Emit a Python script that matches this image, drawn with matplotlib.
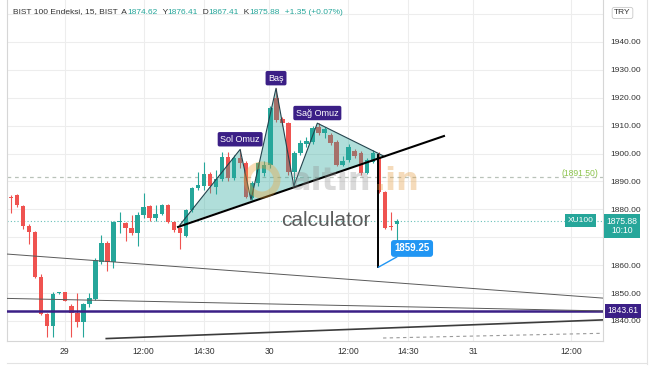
import numpy as np
import matplotlib.pyplot as plt
from matplotlib.patches import Circle

plt.rcParams['font.family'] = ['Liberation Sans', 'DejaVu Sans']

# 15 dakikalık mumlar (BIST 100), bar sırasına göre
opens = [1884.6, 1885.2, 1881.2, 1874.2, 1872.0, 1855.9, 1842.5, 1838.2, 1850.0, 1850.3,
         1845.4, 1842.8, 1839.5, 1846.1, 1847.8, 1861.2, 1868.1, 1861.3, 1875.6, 1875.2,
         1873.2, 1871.4, 1878.0, 1881.2, 1876.8, 1878.3, 1881.6, 1875.6, 1873.2, 1870.5,
         1879.8, 1887.8, 1888.5, 1892.8, 1888.2, 1890.8, 1898.9, 1891.3, 1898.5, 1896.5,
         1884.2, 1889.5, 1893.0, 1896.0, 1919.8, 1912.4, 1911.0, 1893.4, 1900.2, 1903.5,
         1904.0, 1909.5, 1907.4, 1906.7, 1904.3, 1896.0, 1897.7, 1900.8, 1900.2, 1893.0,
         1897.0, 1898.8, 1886.3, 1874.0, 1874.62]
highs = [1885.0, 1885.6, 1881.5, 1874.6, 1872.3, 1857.0, 1843.0, 1850.3, 1850.5, 1850.5,
         1846.0, 1850.0, 1846.5, 1850.0, 1862.5, 1870.8, 1868.5, 1876.0, 1879.2, 1875.6,
         1878.0, 1879.2, 1886.0, 1881.6, 1881.5, 1882.0, 1882.0, 1876.0, 1873.6, 1880.0,
         1888.0, 1893.5, 1897.0, 1893.5, 1894.0, 1900.5, 1900.5, 1899.5, 1901.5, 1897.5,
         1890.0, 1897.0, 1897.5, 1917.0, 1923.4, 1913.0, 1911.5, 1901.0, 1905.0, 1906.0,
         1910.0, 1910.9, 1909.6, 1907.5, 1905.0, 1899.0, 1903.5, 1901.5, 1900.8, 1898.5,
         1901.2, 1900.5, 1886.5, 1879.2, 1876.41]
lows = [1878.7, 1881.0, 1873.0, 1867.6, 1855.5, 1842.0, 1834.4, 1834.4, 1849.8, 1847.0,
        1834.4, 1838.0, 1834.4, 1845.0, 1847.5, 1860.5, 1858.0, 1859.0, 1871.4, 1868.8,
        1870.8, 1867.0, 1877.0, 1876.0, 1876.0, 1878.0, 1875.0, 1872.0, 1865.8, 1870.0,
        1879.0, 1887.0, 1887.0, 1886.0, 1885.5, 1890.0, 1890.0, 1890.5, 1895.0, 1884.0,
        1883.4, 1888.5, 1892.0, 1895.0, 1911.5, 1910.0, 1892.5, 1888.2, 1899.5, 1902.5,
        1903.5, 1906.5, 1905.5, 1903.0, 1895.5, 1895.5, 1897.0, 1898.5, 1892.5, 1892.8,
        1896.5, 1886.0, 1873.0, 1872.6, 1867.41]
closes = [1884.2, 1881.6, 1874.1, 1871.8, 1855.7, 1842.5, 1838.2, 1849.7, 1850.3, 1847.3,
          1842.8, 1839.5, 1846.1, 1848.1, 1861.9, 1868.1, 1861.2, 1875.6, 1875.9, 1873.2,
          1871.4, 1878.0, 1881.0, 1876.8, 1878.3, 1881.6, 1875.6, 1872.6, 1871.4, 1879.8,
          1887.8, 1888.7, 1892.8, 1888.5, 1890.8, 1898.9, 1891.3, 1898.5, 1896.5, 1884.5,
          1889.5, 1896.5, 1896.0, 1916.3, 1912.0, 1911.0, 1893.4, 1900.2, 1903.8, 1904.5,
          1909.2, 1907.4, 1908.8, 1903.8, 1895.9, 1897.2, 1902.5, 1899.0, 1893.0, 1897.7,
          1900.2, 1886.3, 1873.5, 1873.6, 1875.88]

# zaman ekseni etiketleri (bar konumu)
time_pos = [8.9, 22.0, 32.0, 42.8, 55.9, 65.8, 76.6, 92.9]
time_labels = ["29", "12:00", "14:30", "30", "12:00", "14:30", "31", "12:00"]
price_grid = list(range(1840, 1951, 10))
# 1870 ve 1950 etiketleri fiyat kutusu / TRY altında kalıyor
price_labels = [p for p in price_grid if p not in (1870, 1950)]

# omuz-baş-omuz çizimi
pattern_x = [28.0, 38.0, 39.8, 43.95, 46.9, 50.8, 62.0]
pattern_y = [1874.4, 1901.5, 1883.4, 1923.4, 1888.4, 1910.9, 1898.9]
pattern_names = ["Sol Omuz", "Baş", "Sağ Omuz"]
pattern_peaks = [1, 3, 5]

# çizgiler
neck_x, neck_y = [27.7, 71.8], [1873.7, 1906.3]
drop_x, drop_y = [60.9, 60.9], [1899.5, 1859.25]
grey1_x, grey1_y = [-0.7, 98.2], [1864.0, 1848.2]
grey2_x, grey2_y = [-0.7, 98.2], [1848.1, 1843.6]
rise_x, rise_y = [15.8, 98.2], [1833.7, 1840.4]
dash_x, dash_y = [61.7, 98.2], [1833.9, 1835.6]
last_price = 1875.88
alert_price = 1891.50
purple_price = 1843.61
target_price = 1859.25

# başlık parçaları
title = "BIST 100 Endeksi, 15, BIST"
header = [("  A", '#333333'), ("1874.62", '#26a69a'), ("  Y", '#333333'),
          ("1876.41", '#26a69a'), ("  D", '#333333'), ("1867.41", '#26a69a'),
          ("  K", '#333333'), ("1875.88", '#26a69a'), ("  +1.35 (+0.07%)", '#26a69a')]

UP, DOWN = '#26a69a', '#ef5350'
PURPLE = '#3b1f86'

fig = plt.figure(figsize=(6.54, 3.66), dpi=100)
ax = fig.add_axes([7/654, 25/366, 596/654, 341/366])
ax.set_xlim(-0.66, 98.17)
ax.set_ylim(1832.83, 1955.05)

o, h, l, c = map(np.array, (opens, highs, lows, closes))
x = np.arange(len(o))
col = np.where(c >= o, UP, DOWN)
ax.vlines(x, l, h, colors=col, lw=0.8, zorder=3)
ax.bar(x, np.maximum(np.abs(c - o), 0.25), bottom=np.minimum(o, c), width=0.74,
       color=col, zorder=3)

# grid ve eksenler
ax.set_xticks(time_pos, time_labels)
ax.set_yticks(price_labels, [f"{p:.2f}" for p in price_labels])
ax.grid(True, axis='x', color='#ededed', lw=0.8, zorder=0)
for p in price_grid:
    ax.axhline(p, color='#ededed', lw=0.8, zorder=0)
ax.yaxis.tick_right()
ax.tick_params(axis='y', length=0, pad=5, labelsize=6, labelcolor='#333333')
ax.tick_params(axis='x', length=0, pad=4, labelsize=6.2, labelcolor='#333333')
for s in ax.spines.values():
    s.set_color('#d6d6d6')
    s.set_linewidth(0.8)
ax.spines['top'].set_visible(False)

# yatay çizgiler
ax.axhline(alert_price, color='#b9c2b9', lw=0.9, ls=(0, (3, 3)), zorder=2)
ax.axhline(last_price, color=UP, lw=0.8, ls=(0, (1, 2)), zorder=2, alpha=0.7)
ax.axhline(purple_price, color=PURPLE, lw=1.8, zorder=4)
ax.plot(grey1_x, grey1_y, color='#5a5a5a', lw=0.7, zorder=4)
ax.plot(grey2_x, grey2_y, color='#5a5a5a', lw=0.7, zorder=4)
ax.plot(rise_x, rise_y, color='#3c3c3c', lw=1.2, zorder=4)
ax.plot(dash_x, dash_y, color='#9a9a9a', lw=0.8, ls=(0, (3, 3)), zorder=4)

# formasyon
ax.fill(pattern_x, pattern_y, color=UP, alpha=0.36, lw=0, zorder=5)
ax.plot(pattern_x, pattern_y, color='#24444e', lw=0.8, zorder=6)
for name, k in zip(pattern_names, pattern_peaks):
    ax.annotate(name, (pattern_x[k], pattern_y[k]), xytext=(0, 7.3),
                textcoords='offset points', ha='center', va='center',
                fontsize=6.5, color='white', zorder=8,
                bbox=dict(boxstyle='round,pad=0.3,rounding_size=0.2', fc=PURPLE, ec='none'))

ax.plot(neck_x, neck_y, color='black', lw=1.5, zorder=7)
ax.plot(drop_x, drop_y, color='black', lw=1.4, zorder=7)
ax.annotate(f"{target_price:.2f}", (drop_x[1], drop_y[1]), xytext=(66.5, 1866.0),
            ha='center', va='center', fontsize=7, color='white', fontweight='bold',
            zorder=9,
            bbox=dict(boxstyle='round,pad=0.35,rounding_size=0.3', fc='#2196f3', ec='none'),
            arrowprops=dict(arrowstyle='-', color='#2196f3', lw=1.0, shrinkA=0, shrinkB=0))

# filigran
fig.text(290/654, 1 - 182/366, "altın", fontsize=23, fontweight='bold',
         family='DejaVu Sans', color='#8c8c8c', alpha=0.32, va='center')
fig.text(374/654, 1 - 182/366, ".in", fontsize=23, fontweight='bold',
         family='DejaVu Sans', color='#e39a3c', alpha=0.35, va='center')
fig.add_artist(Circle((262/100, (366 - 180)/100), 0.15, transform=fig.dpi_scale_trans,
                      fill=False, ec='#f0a030', lw=5, alpha=0.35))
fig.text(281/654, 1 - 221/366, "calculator", fontsize=15, color='#5c5c5c', va='center')

# sağ eksen etiketleri
yt = ax.get_yaxis_transform()
ax.text(0.9622, last_price, "XU100", transform=yt, ha='center', va='center',
        fontsize=6, color='white', zorder=9,
        bbox=dict(boxstyle='square,pad=0.35', fc=UP, ec='none'))
ax.text(1.032, last_price - 1.9, f"{last_price:.2f}\n10:10", transform=yt, ha='center',
        va='center', fontsize=6.2, color='white', linespacing=1.05, zorder=9,
        clip_on=False, bbox=dict(boxstyle='square,pad=0.3', fc=UP, ec='none'))
ax.text(1.033, purple_price, f"{purple_price:.2f}", transform=yt, ha='center', va='center',
        fontsize=6.2, color='white', zorder=9, clip_on=False,
        bbox=dict(boxstyle='square,pad=0.3', fc=PURPLE, ec='none'))
ax.text(0.9916, alert_price + 1.5, f"({alert_price:.2f})", transform=yt, ha='right',
        va='center', fontsize=6.2, color='#8bc34a', zorder=9)
ax.text(1.0327, 1950.4, "TRY", transform=yt, ha='center', va='center', fontsize=6,
        color='#333333', zorder=10, clip_on=False,
        bbox=dict(boxstyle='round,pad=0.25', fc='white', ec='#c8c8c8', lw=0.6))

# başlık: parçaları yan yana zincirle
prev = ax.annotate(title, xy=(12.7/654, 1 - 12/366), xycoords='figure fraction',
                   fontsize=6, color='#333333', va='center', annotation_clip=False)
for txt, colr in header:
    prev = ax.annotate(txt, xy=(1, 0.5), xycoords=prev, fontsize=6, color=colr,
                       va='center', annotation_clip=False)

# çerçeve
fig.add_artist(plt.Line2D([647/654, 647/654], [2/366, 1], color='#e3e3e3', lw=0.8))
fig.add_artist(plt.Line2D([7/654, 647/654], [3/366, 3/366], color='#e3e3e3', lw=0.8))

fig.savefig("out.png", dpi=100)
